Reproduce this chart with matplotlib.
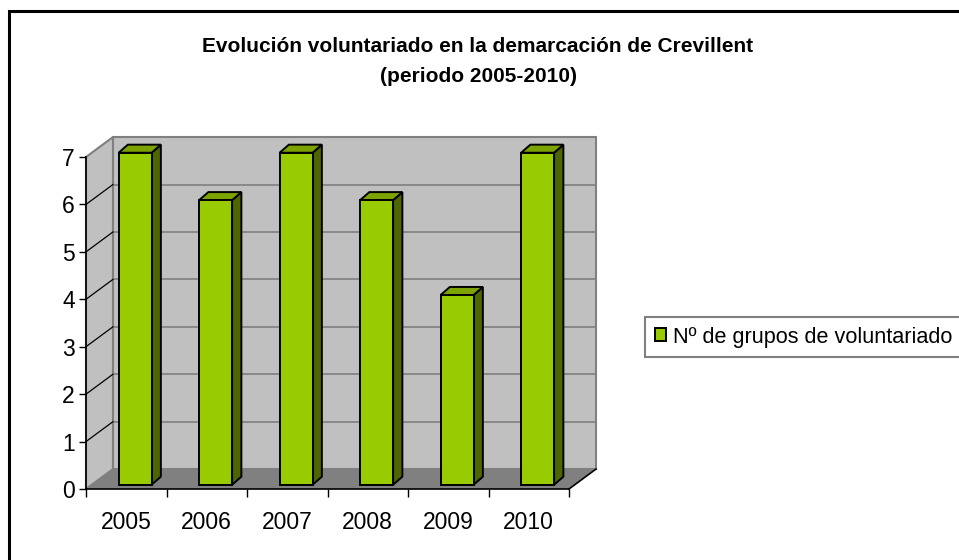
import matplotlib
matplotlib.use("Agg")
import matplotlib.pyplot as plt
from matplotlib.patches import Polygon, Rectangle

# datos
years = ['2005', '2006', '2007', '2008', '2009', '2010']
grupos = [7, 6, 7, 6, 4, 7]
yticks = [0, 1, 2, 3, 4, 5, 6, 7]
title_lines = ['Evolución voluntariado en la demarcación de Crevillent', '(periodo 2005-2010)']
legend_label = 'Nº de grupos de voluntariado'

plt.rcParams['font.family'] = ['Liberation Sans', 'DejaVu Sans']

W, H = 959, 560
fig = plt.figure(figsize=(W / 100, H / 100), dpi=100)
fig.patch.set_facecolor('white')

# marco exterior del grafico (se sale por la derecha y por abajo)
fig.patches.append(Rectangle((9 / W, -0.1), 1.2, 1 - 11 / H + 0.1, transform=fig.transFigure,
                             fill=False, ec='black', lw=2.2))

# plano frontal de los ejes
ax = fig.add_axes([86 / W, 1 - 489 / H, (569 - 86) / W, (489 - 157) / H])
ax.set_xlim(-0.5, len(years) - 0.5)
ax.set_ylim(0, 7)
ax.patch.set_visible(False)

# profundidad de las paredes en unidades de datos
dx, dy = 0.335, 0.42
x0, x1 = -0.5, len(years) - 0.5
ymax = 7
wall = '#C0C0C0'
floor = '#808080'

ax.add_patch(Polygon([(x0 + dx, dy), (x1 + dx, dy), (x1 + dx, ymax + dy), (x0 + dx, ymax + dy)],
                     closed=True, fc=wall, ec='#808080', lw=1.5, clip_on=False, zorder=0))
ax.add_patch(Polygon([(x0, 0), (x0, ymax), (x0 + dx, ymax + dy), (x0 + dx, dy)],
                     closed=True, fc=wall, ec='#808080', lw=1.5, clip_on=False, zorder=0))
ax.add_patch(Polygon([(x0, 0), (x1, 0), (x1 + dx, dy), (x0 + dx, dy)],
                     closed=True, fc=floor, ec='none', clip_on=False, zorder=1))
ax.plot([x1, x1 + dx], [0, dy], color='black', lw=1.2, clip_on=False, zorder=2)

# lineas de division
for v in yticks[1:-1]:
    ax.plot([x0 + dx, x1 + dx], [v + dy, v + dy], color='#808080', lw=1.2, clip_on=False, zorder=0.5)
    ax.plot([x0, x0 + dx], [v, v + dy], color='black', lw=0.9, clip_on=False, zorder=0.5)

# barras 3d
bw = 0.41
off_x, off_y = 0.11, 0.09
bdx, bdy = 0.115, 0.17
front_c = '#99CC00'
top_c = '#7DA300'
side_c = '#4D6600'
for i, val in enumerate(grupos):
    l = i - bw / 2 + off_x
    r = i + bw / 2 + off_x
    b = off_y
    t = val + off_y
    ax.add_patch(Polygon([(r, b), (r + bdx, b + bdy), (r + bdx, t + bdy), (r, t)],
                         closed=True, fc=side_c, ec='black', lw=1.4, clip_on=False, zorder=3))
    ax.add_patch(Polygon([(l, t), (r, t), (r + bdx, t + bdy), (l + bdx, t + bdy)],
                         closed=True, fc=top_c, ec='black', lw=1.4, clip_on=False, zorder=3))
    ax.add_patch(Rectangle((l, b), r - l, t - b, fc=front_c, ec='black', lw=1.4,
                           clip_on=False, zorder=4, label=legend_label if i == 0 else None))

# ejes
for s in ['top', 'right']:
    ax.spines[s].set_visible(False)
ax.spines['left'].set_linewidth(1.2)
ax.spines['bottom'].set_linewidth(1.2)
ax.spines['left'].set_zorder(5)
ax.spines['bottom'].set_zorder(5)
ax.set_yticks(yticks)
ax.tick_params(axis='y', length=5, width=1, labelsize=16.5, pad=3)
ax.set_xticks(range(len(years)))
ax.set_xticklabels(years)
ax.set_xticks([k - 0.5 for k in range(len(years) + 1)], minor=True)
ax.tick_params(axis='x', which='major', length=0, labelsize=16.5, pad=16)
ax.tick_params(axis='x', which='minor', length=6, width=1)

fig.text(478 / W, 1 - 47 / H, title_lines[0], ha='center', va='center', fontsize=15,
         fontweight='bold')
fig.text(478 / W, 1 - 77 / H, title_lines[1], ha='center', va='center', fontsize=15,
         fontweight='bold')

leg = fig.legend(loc='center left', bbox_to_anchor=(645 / W, 1 - 337 / H), fontsize=15.6,
                 frameon=True, fancybox=False, edgecolor='#808080', framealpha=1,
                 handlelength=0.55, handleheight=0.55, handletextpad=0.3, borderpad=0.44,
                 borderaxespad=0)
leg.get_frame().set_linewidth(1.5)

fig.savefig('out.png', dpi=100)
